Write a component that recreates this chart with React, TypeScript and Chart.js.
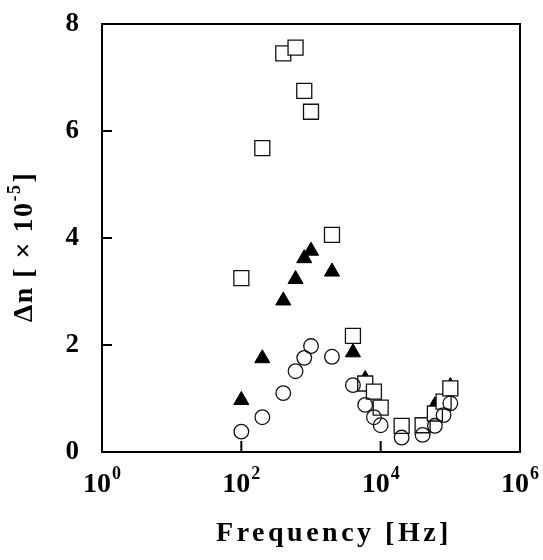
import React, { useEffect, useRef } from 'react';
import { Chart, registerables } from 'chart.js';

Chart.register(...registerables);

const frequencies = [100, 200, 400, 600, 800, 1000, 2000, 4000, 6000, 8000, 10000, 20000, 40000, 60000, 80000, 100000];
const squareValues = [3.25, 5.68, 7.45, 7.56, 6.75, 6.36, 4.06, 2.17, 1.28, 1.13, 0.83, 0.49, 0.5, 0.72, 0.94, 1.19];
const circleValues = [0.38, 0.65, 1.1, 1.51, 1.76, 1.98, 1.78, 1.25, 0.88, 0.65, 0.5, 0.27, 0.32, 0.49, 0.69, 0.91];
const triangleFrequencies = [100, 200, 400, 600, 800, 1000, 2000, 4000, 6000, 60000, 100000];
const triangleValues = [0.97, 1.75, 2.83, 3.23, 3.62, 3.76, 3.37, 1.86, 1.36, 0.87, 1.23];
const xTickExponents = [0, 2, 4, 6];
const yTickValues = [0, 2, 4, 6, 8];
const xTitle = 'Frequency [Hz]';
const yTitleMain = 'Δn [ × 10';
const yTitleSup = '-5';
const yTitleEnd = ']';

const SERIF = '"Liberation Serif", "Times New Roman", serif';

const framePlugin = {
  id: 'frame',
  beforeDatasetsDraw(chart: any) {
    const { ctx, chartArea: a, scales } = chart;
    const xs = scales.x;
    const ys = scales.y;
    ctx.save();
    ctx.strokeStyle = '#000';
    ctx.lineWidth = 2;
    ctx.strokeRect(a.left, a.top, a.right - a.left, a.bottom - a.top);
    ctx.beginPath();
    yTickValues.forEach((v) => {
      if (v === yTickValues[0] || v === yTickValues[yTickValues.length - 1]) return;
      const py = ys.getPixelForValue(v);
      ctx.moveTo(a.left, py);
      ctx.lineTo(a.left + 10, py);
    });
    xTickExponents.forEach((e, i) => {
      if (i === 0 || i === xTickExponents.length - 1) return;
      const px = xs.getPixelForValue(Math.pow(10, e));
      ctx.moveTo(px, a.bottom);
      ctx.lineTo(px, a.bottom - 11);
    });
    ctx.stroke();
    ctx.restore();
  },
  afterDraw(chart: any) {
    const { ctx, chartArea: a, scales } = chart;
    const xs = scales.x;
    ctx.save();
    ctx.fillStyle = '#000';
    ctx.textBaseline = 'alphabetic';
    ctx.textAlign = 'left';
    const big = `bold 28px ${SERIF}`;
    const small = `bold 18px ${SERIF}`;
    xTickExponents.forEach((e) => {
      const px = xs.getPixelForValue(Math.pow(10, e));
      ctx.font = big;
      const w1 = ctx.measureText('10').width;
      ctx.font = small;
      const sup = String(e);
      const w2 = ctx.measureText(sup).width;
      const start = px - (w1 + w2 + 1) / 2;
      const base = a.bottom + 40;
      ctx.font = big;
      ctx.fillText('10', start, base);
      ctx.font = small;
      ctx.fillText(sup, start + w1 + 1, base - 13);
    });
    // x title
    ctx.font = big;
    (ctx as any).letterSpacing = '3.5px';
    ctx.textAlign = 'center';
    ctx.fillText(xTitle, 334, 541);
    (ctx as any).letterSpacing = '0px';
    // y title (rotated)
    ctx.translate(32, 247);
    ctx.rotate(-Math.PI / 2);
    ctx.textAlign = 'left';
    (ctx as any).letterSpacing = '1.5px';
    ctx.font = big;
    const m1 = ctx.measureText(yTitleMain).width;
    ctx.font = small;
    const m2 = ctx.measureText(yTitleSup).width;
    ctx.font = big;
    const m3 = ctx.measureText(yTitleEnd).width;
    const total = m1 + m2 + m3 + 1;
    let cx = -total / 2;
    ctx.font = big;
    ctx.fillText(yTitleMain, cx, 0);
    cx += m1;
    ctx.font = small;
    ctx.fillText(yTitleSup, cx, -12);
    cx += m2 + 1;
    ctx.font = big;
    ctx.fillText(yTitleEnd, cx, 0);
    ctx.restore();
  },
};

export default function App() {
  const canvasRef = useRef<HTMLCanvasElement | null>(null);

  useEffect(() => {
    const canvas = canvasRef.current;
    if (!canvas) return;
    const chart = new Chart(canvas, {
      type: 'scatter',
      data: {
        datasets: [
          {
            label: 'circles',
            data: frequencies.map((f, i) => ({ x: f, y: circleValues[i] })),
            pointStyle: 'circle',
            pointRadius: 7.3,
            pointBorderWidth: 1.3,
            borderColor: '#111',
            backgroundColor: 'rgba(0,0,0,0)',
          },
          {
            label: 'squares',
            data: frequencies.map((f, i) => ({ x: f, y: squareValues[i] })),
            pointStyle: 'rect',
            pointRadius: 10.6,
            pointBorderWidth: 1.3,
            borderColor: '#111',
            backgroundColor: '#fff',
          },
          {
            label: 'triangles',
            data: triangleFrequencies.map((f, i) => ({ x: f, y: triangleValues[i] })),
            pointStyle: 'triangle',
            pointRadius: 8.7,
            pointBorderWidth: 1,
            borderColor: '#000',
            backgroundColor: '#000',
          },
        ],
      },
      options: {
        animation: false,
        responsive: false,
        events: [],
        layout: { padding: { left: 0, right: 23, top: 24, bottom: 108 } },
        plugins: { legend: { display: false }, tooltip: { enabled: false } },
        scales: {
          x: {
            type: 'logarithmic',
            min: 1,
            max: 1e6,
            display: false,
          },
          y: {
            type: 'linear',
            min: 0,
            max: 8,
            grid: { display: false, drawTicks: false },
            border: { display: false },
            ticks: {
              stepSize: 2,
              color: '#000',
              padding: 23,
              font: { family: SERIF, size: 27, weight: 'bold' },
            },
            afterFit(scale: any) {
              scale.width = 102;
              scale.paddingTop = 0;
              scale.paddingBottom = 0;
            },
          },
        },
      },
      plugins: [framePlugin],
    });
    return () => chart.destroy();
  }, []);

  return (
    <div style={{ position: 'fixed', left: 0, top: 0, width: 543, height: 560, background: '#fff' }}>
      <canvas ref={canvasRef} width={543} height={560} style={{ width: 543, height: 560, display: 'block' }} />
    </div>
  );
}
